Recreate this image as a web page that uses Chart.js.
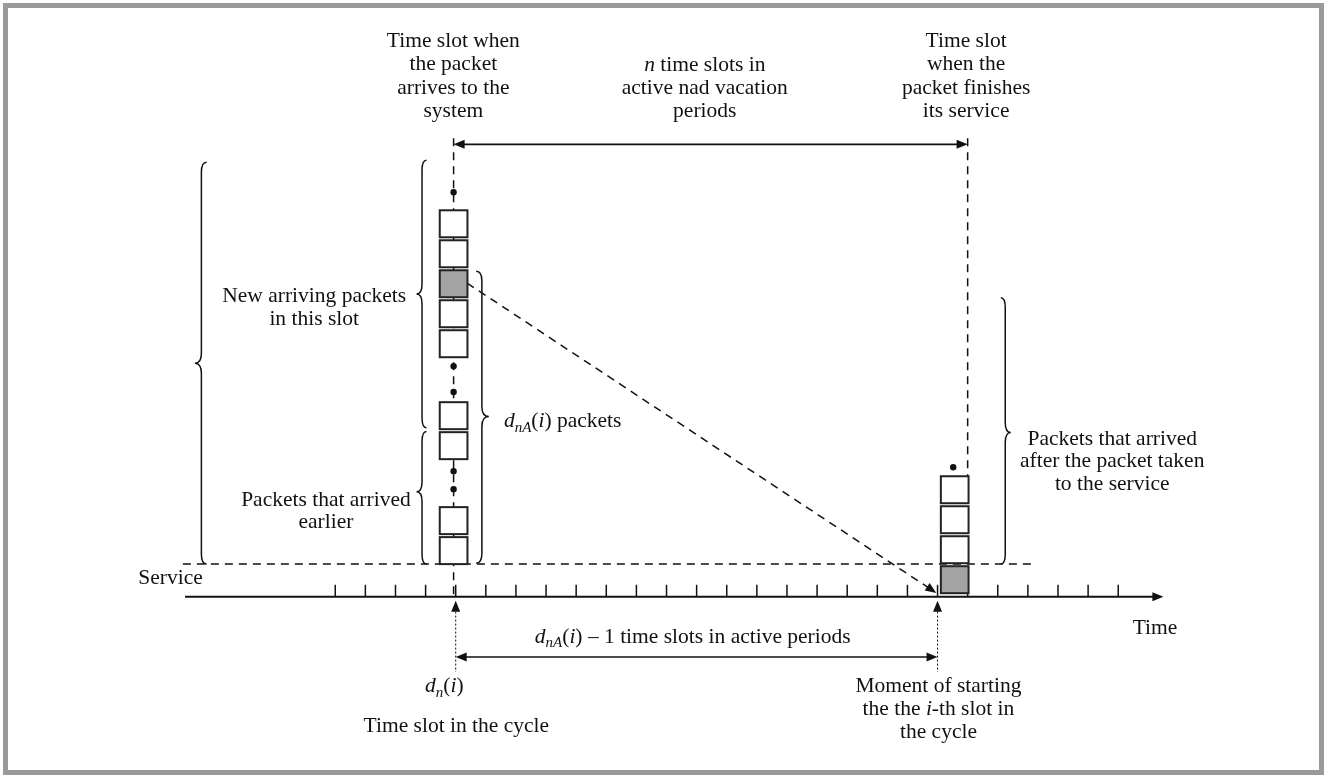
<!DOCTYPE html>
<html>
<head>
<meta charset="utf-8">
<script src="https://cdn.jsdelivr.net/npm/chart.js@4/dist/chart.umd.min.js"></script>
<style>
  html, body { margin: 0; padding: 0; background: #fff; }
  #wrap { width: 1327px; height: 778px; }
</style>
</head>
<body>
<div id="wrap"><canvas id="myChart" width="1327" height="778"></canvas></div>
<script>
// time axis: slot index of every tick
const slots = [0, 1, 2, 3, 4, 5, 6, 7, 8, 9, 10, 11, 12, 13, 14, 15, 16, 17, 18, 19, 20, 21, 22, 23, 24, 25, 26];
const arrivalSlot = 4;
const serviceSlot = 20;

// queue at arrival (bottom level of each packet box, 0 = service line)
const leftBoxes = [0, 1, 3.5, 4.5, 6.9, 7.9, 8.9, 9.9, 10.9];
const leftShaded = [8.9];
const leftDots = [2.5, 3.1, 5.74, 6.6, 12.4];

// queue when the packet is served
const rightBoxes = [-0.97, 0.03, 1.03, 2.03];
const rightShaded = [-0.97];
const rightDots = [3.23];

// texts
const arriveLabel = ['Time slot when', 'the packet', 'arrives to the', 'system'];
const finishLabel = ['Time slot', 'when the', 'packet finishes', 'its service'];
const newLabel = ['New arriving packets', 'in this slot'];
const earlierLabel = ['Packets that arrived', 'earlier'];
const afterLabel = ['Packets that arrived', 'after the packet taken', 'to the service'];
const cycleLabel = 'Time slot in the cycle';

const FONT = '"Liberation Serif", "Times New Roman", serif';
const FS = 21.5;

const leftCol = 3.93;
const rightCol = 20.57;

function rich(ctx, segs, x, y, align) {
  const parts = segs.map(s => {
    const size = s.sub ? 15 : FS;
    const f = (s.i ? 'italic ' : '') + size + 'px ' + FONT;
    ctx.font = f;
    return {t: s.t, f: f, w: ctx.measureText(s.t).width, dy: s.sub ? 6 : 0};
  });
  const total = parts.reduce((a, p) => a + p.w, 0);
  let cx = align === 'left' ? x : x - total / 2;
  ctx.textAlign = 'left';
  ctx.textBaseline = 'middle';
  parts.forEach(p => {
    ctx.font = p.f;
    ctx.fillText(p.t, cx, y + p.dy);
    cx += p.w;
  });
}

function arrowHead(ctx, x0, y0, x1, y1) {
  const a = Math.atan2(y1 - y0, x1 - x0);
  const L = 11, W = 4.5;
  ctx.beginPath();
  ctx.moveTo(x1, y1);
  ctx.lineTo(x1 - L * Math.cos(a) + W * Math.sin(a), y1 - L * Math.sin(a) - W * Math.cos(a));
  ctx.lineTo(x1 - L * Math.cos(a) - W * Math.sin(a), y1 - L * Math.sin(a) + W * Math.cos(a));
  ctx.closePath();
  ctx.fill();
}

function brace(ctx, xe, y1, y2, ym, xt) {
  const xb = xe + (xt - xe) * 0.45;
  const r = 10;
  ctx.beginPath();
  ctx.moveTo(xe, y1);
  ctx.quadraticCurveTo(xb, y1, xb, y1 + r);
  ctx.lineTo(xb, ym - r);
  ctx.quadraticCurveTo(xb, ym, xt, ym);
  ctx.quadraticCurveTo(xb, ym, xb, ym + r);
  ctx.lineTo(xb, y2 - r);
  ctx.quadraticCurveTo(xb, y2, xe, y2);
  ctx.stroke();
}

const diagram = {
  id: 'diagram',
  beforeDraw(chart) {
    const ctx = chart.ctx;
    ctx.save();
    ctx.fillStyle = '#fff';
    ctx.fillRect(0, 0, chart.width, chart.height);
    ctx.restore();
  },
  afterDatasetsDraw(chart) {
    const ctx = chart.ctx;
    const xs = chart.scales.x, ys = chart.scales.y;
    const X = v => xs.getPixelForValue(v);
    const Y = v => ys.getPixelForValue(v);
    ctx.save();
    ctx.strokeStyle = '#111';
    ctx.fillStyle = '#111';

    // time axis
    const axisY = Y(-1.09);
    ctx.lineWidth = 2;
    ctx.beginPath();
    ctx.moveTo(X(-4.99), axisY);
    ctx.lineTo(X(27.3), axisY);
    ctx.stroke();
    arrowHead(ctx, X(26), axisY, X(27.5), axisY);
    ctx.lineWidth = 1.5;
    slots.forEach(s => {
      ctx.beginPath();
      ctx.moveTo(X(s), axisY);
      ctx.lineTo(X(s), axisY - 12);
      ctx.stroke();
    });

    // packet boxes
    const bw = 0.92, bh = 0.9;
    const box = (col, lv, shaded) => {
      const x0 = X(col - bw / 2), x1 = X(col + bw / 2);
      const y0 = Y(lv + bh), y1 = Y(lv);
      ctx.fillStyle = shaded ? '#a3a3a3' : '#fff';
      ctx.fillRect(x0, y0, x1 - x0, y1 - y0);
      ctx.lineWidth = 2;
      ctx.strokeStyle = '#222';
      ctx.strokeRect(x0, y0, x1 - x0, y1 - y0);
    };
    leftBoxes.forEach(l => box(leftCol, l, leftShaded.includes(l)));
    rightBoxes.forEach(l => box(rightCol, l, rightShaded.includes(l)));
    ctx.fillStyle = '#111';
    ctx.strokeStyle = '#111';

    // arrowhead of dashed diagonal
    arrowHead(ctx, X(4.38), Y(9.37), X(19.96), Y(-0.96));

    // double arrow on top
    ctx.lineWidth = 1.6;
    ctx.beginPath();
    ctx.moveTo(X(leftCol) + 4, Y(14));
    ctx.lineTo(X(21.0) - 4, Y(14));
    ctx.stroke();
    arrowHead(ctx, X(21), Y(14), X(leftCol), Y(14));
    arrowHead(ctx, X(leftCol), Y(14), X(21), Y(14));

    // bottom double arrow
    ctx.beginPath();
    ctx.moveTo(X(arrivalSlot) + 4, Y(-3.1));
    ctx.lineTo(X(serviceSlot) - 4, Y(-3.1));
    ctx.stroke();
    arrowHead(ctx, X(serviceSlot), Y(-3.1), X(arrivalSlot), Y(-3.1));
    arrowHead(ctx, X(arrivalSlot), Y(-3.1), X(serviceSlot), Y(-3.1));

    // upward dotted arrows below the axis
    [arrivalSlot, serviceSlot].forEach(s => {
      ctx.lineWidth = 1;
      ctx.setLineDash([2, 2]);
      ctx.beginPath();
      ctx.moveTo(X(s), Y(-1.45));
      ctx.lineTo(X(s), Y(-3.6));
      ctx.stroke();
      ctx.setLineDash([]);
      arrowHead(ctx, X(s), Y(-1.6), X(s), Y(-1.22));
    });

    // braces
    ctx.lineWidth = 1.5;
    brace(ctx, X(-4.27), Y(13.4), Y(0), Y(6.7), X(-4.66));
    brace(ctx, X(3.03), Y(13.47), Y(4.55), Y(9.01), X(2.70));
    brace(ctx, X(3.03), Y(4.42), Y(0), Y(2.41), X(2.70));
    brace(ctx, X(4.68), Y(9.77), Y(0.03), Y(4.92), X(5.10));
    brace(ctx, X(22.1), Y(8.88), Y(0), Y(4.39), X(22.43));

    // texts
    ctx.fillStyle = '#111';
    const lines = (arr, cx, top, step) => arr.forEach((t, k) => {
      ctx.font = FS + 'px ' + FONT;
      ctx.textAlign = 'center';
      ctx.textBaseline = 'middle';
      ctx.fillText(t, X(cx), Y(top) + k * step);
    });
    lines(arriveLabel, 3.92, 17.43, 23.3);
    lines(finishLabel, 20.95, 17.43, 23.3);
    rich(ctx, [{t: 'n', i: 1}, {t: ' time slots in'}], X(12.27), Y(16.63), 'center');
    lines(['active nad vacation', 'periods'], 12.27, 15.87, 23.3);
    lines(newLabel, -0.70, 8.94, 23);
    lines(earlierLabel, -0.31, 2.14, 22.5);
    lines(afterLabel, 25.80, 4.16, 22.3);
    rich(ctx, [{t: 'd', i: 1}, {t: 'nA', i: 1, sub: 1}, {t: '('}, {t: 'i', i: 1}, {t: ') packets'}], X(5.6), Y(4.75), 'left');
    rich(ctx, [{t: 'Service'}], X(-6.54), Y(-0.46), 'left');
    lines(['Time'], 27.22, -2.15, 0);
    rich(ctx, [{t: 'd', i: 1}, {t: 'nA', i: 1, sub: 1}, {t: '('}, {t: 'i', i: 1}, {t: ') \u2013 1 time slots in active periods'}], X(11.87), Y(-2.44), 'center');
    rich(ctx, [{t: 'd', i: 1}, {t: 'n', i: 1, sub: 1}, {t: '('}, {t: 'i', i: 1}, {t: ')'}], X(3.62), Y(-4.09), 'center');
    lines([cycleLabel], 4.02, -5.41, 0);
    lines(['Moment of starting'], 20.03, -4.09, 0);
    rich(ctx, [{t: 'the the '}, {t: 'i', i: 1}, {t: '-th slot in'}], X(20.03), Y(-4.85), 'center');
    lines(['the cycle'], 20.03, -5.61, 0);

    // frame
    ctx.strokeStyle = '#9a9a9a';
    ctx.lineWidth = 5;
    ctx.strokeRect(5.5, 5.5, chart.width - 11, chart.height - 11);
    ctx.restore();
  }
};

const dashed = {showLine: true, pointRadius: 0, borderColor: '#111', borderWidth: 1.5, borderDash: [8, 6], fill: false};

new Chart(document.getElementById('myChart'), {
  type: 'scatter',
  data: {
    datasets: [
      Object.assign({label: 'service line', data: [{x: -5.06, y: 0}, {x: 23.2, y: 0}]}, dashed),
      Object.assign({label: 'arrival slot', data: [{x: leftCol, y: 14.2}, {x: leftCol, y: -1.09}]}, dashed),
      Object.assign({label: 'finish slot', data: [{x: 21.0, y: 14.2}, {x: 21.0, y: 2.93}]}, dashed),
      Object.assign({label: 'to service', data: [{x: 4.38, y: 9.37}, {x: 19.9, y: -0.92}]}, dashed),
      {label: 'dots', data: leftDots.map(l => ({x: leftCol, y: l})).concat(rightDots.map(l => ({x: rightCol - 0.05, y: l}))),
        pointRadius: 3.2, pointBackgroundColor: '#111', pointBorderWidth: 0, showLine: false}
    ]
  },
  options: {
    responsive: false,
    animation: false,
    devicePixelRatio: 1,
    layout: {padding: 0},
    plugins: {legend: {display: false}, tooltip: {enabled: false}},
    scales: {
      x: {type: 'linear', display: false, min: -11, max: 32.8},
      y: {type: 'linear', display: false, min: -7, max: 18.68}
    }
  },
  plugins: [diagram]
});
</script>
</body>
</html>
